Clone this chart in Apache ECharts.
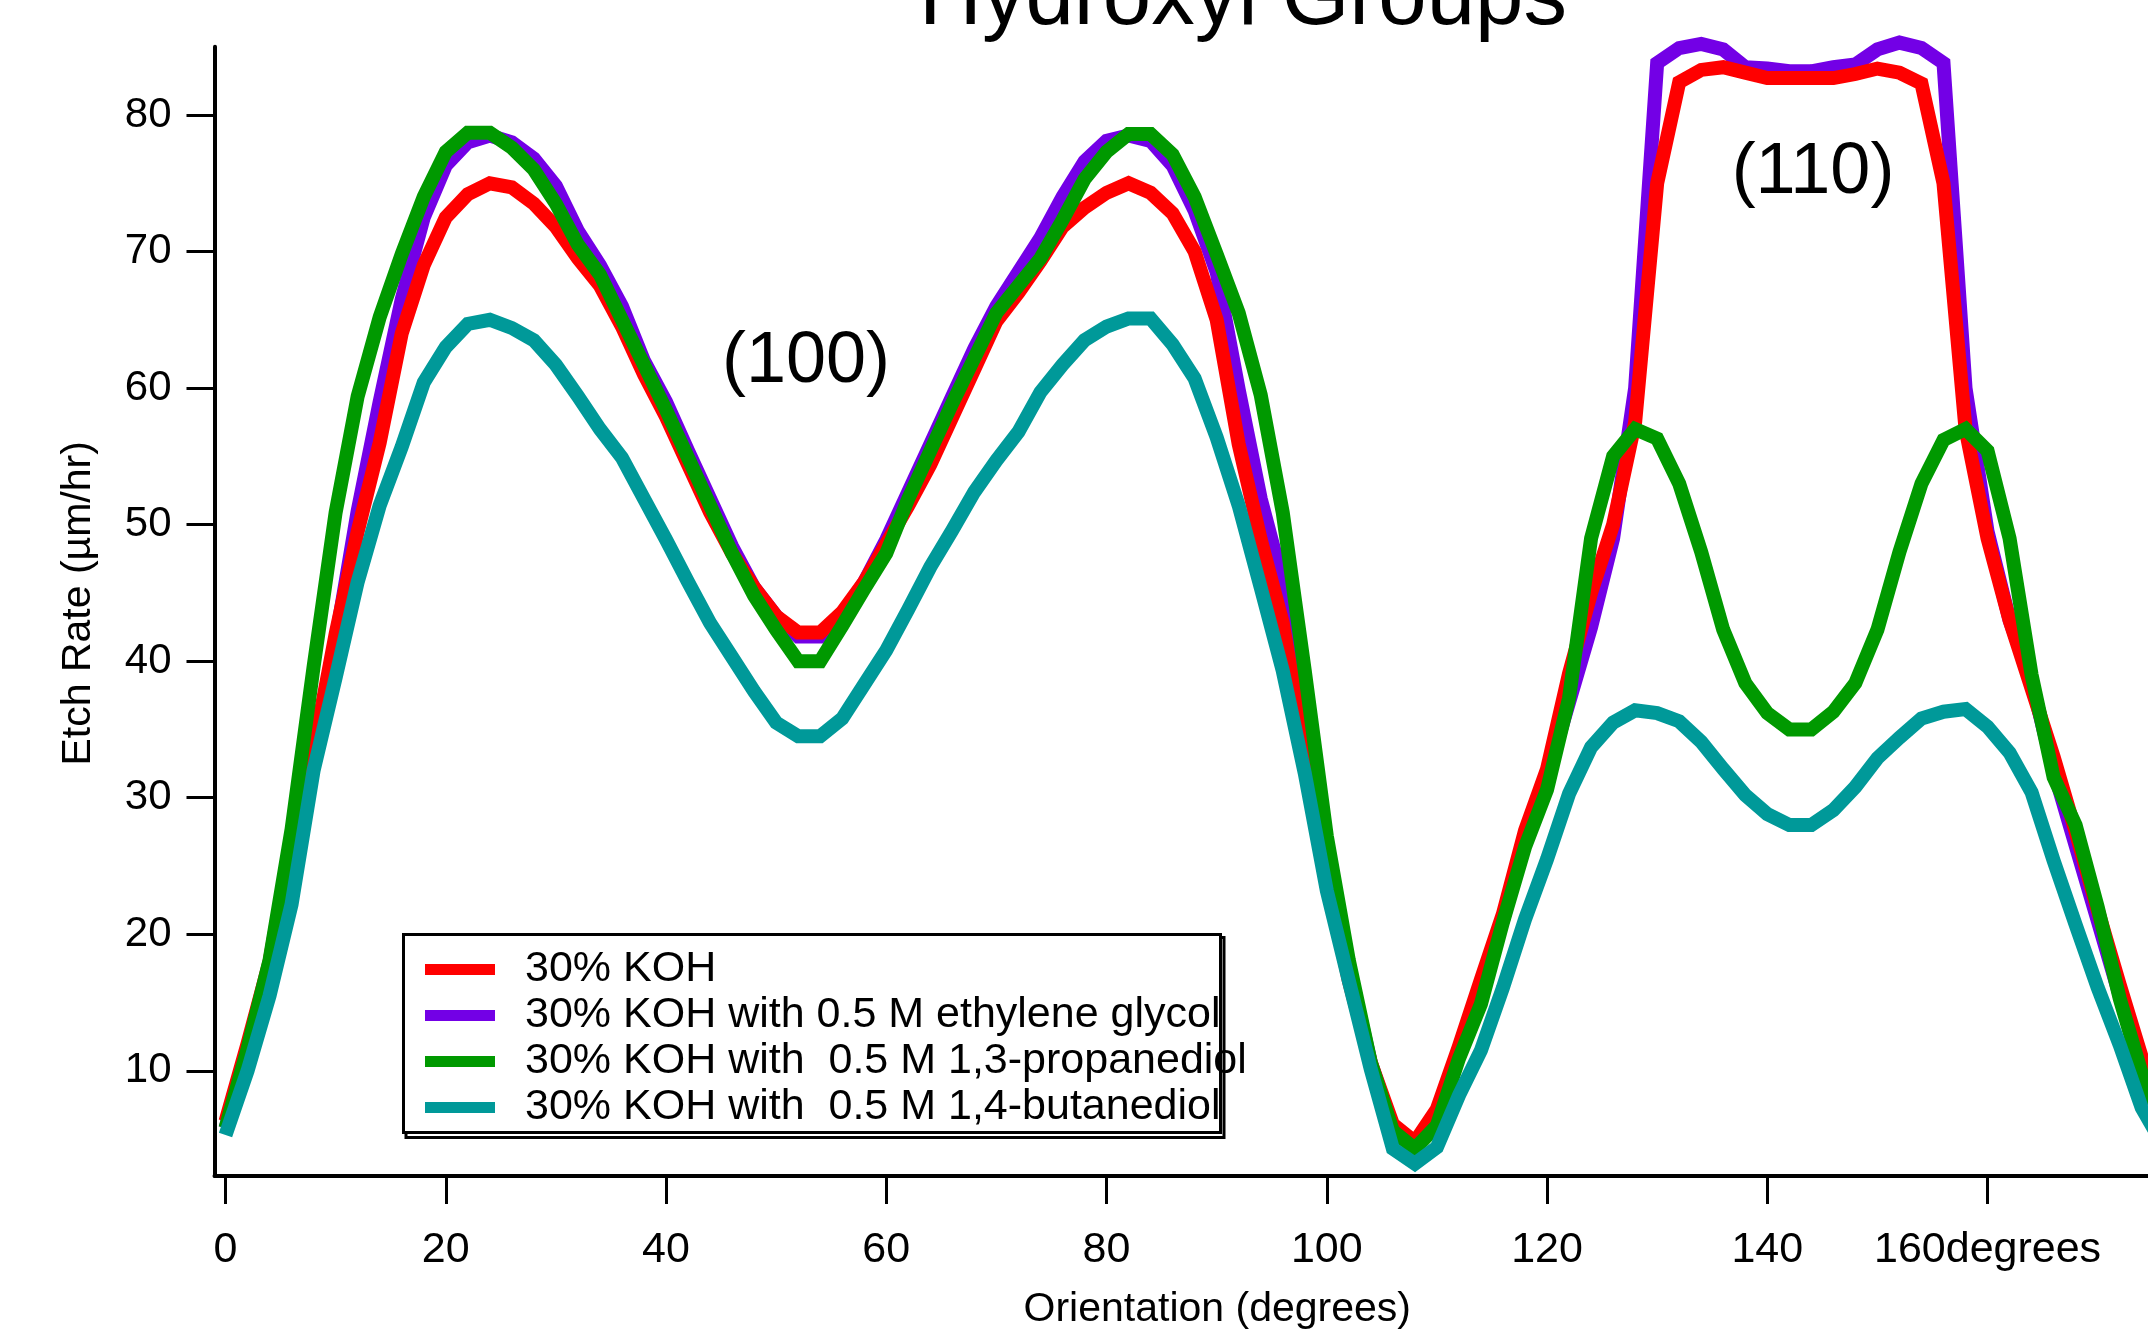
<!DOCTYPE html>
<html>
<head>
<meta charset="utf-8">
<script src="https://cdn.jsdelivr.net/npm/echarts@6/dist/echarts.min.js"></script>
<style>
html,body{margin:0;padding:0;background:#fff;}
#chart{width:2148px;height:1335px;}
</style>
</head>
<body>
<div id="chart"></div>
<script>
// Orientation (degrees)
const orientation = [0,2,4,6,8,10,12,14,16,18,20,22,24,26,28,30,32,34,
  36,38,40,42,44,46,48,50,52,54,56,58,60,62,64,66,68,70,72,
  74,76,78,80,82,84,86,88,90,92,94,96,98,100,102,104,106,108,
  110,112,114,116,118,120,122,124,126,128,130,132,134,136,138,140,142,144,
  146,148,150,152,154,156,158,160,162,164,166,168,170,172,174,176];

// Etch rate (um/hr)
const koh = [6.3,12,18,27,33.5,42,49.5,56,64,69,72.5,74.2,75,74.7,73.5,71.8,69.5,67.5,
  64.5,61,57.9,54.4,50.9,47.9,45.4,43.3,42.1,42.1,43.6,45.8,48.6,51.4,54.4,57.9,61.4,64.9,67,
  69.3,71.8,73.2,74.3,75,74.3,72.8,70,65,55.9,48.9,42.8,33.3,24.2,16.6,10.6,6.1,4.8,
  7.2,11.8,16.7,21.5,27.6,32.1,39.1,45,50,57.5,75,82.4,83.3,83.5,83.1,82.7,82.7,82.7,
  82.7,83,83.4,83.1,82.3,75,57,49,43,38,33,27.5,21.8,16.3,11,7];

const ethyleneGlycol = [5.8,11.3,17.1,26.7,33.5,41.5,51,59,66.5,72.5,76.3,78,78.5,78,76.8,74.8,71.5,69,
  66,62,59,55.4,51.9,48.4,45.4,43.3,41.8,41.8,43.3,45.8,48.9,52.4,55.9,59.4,62.9,66,68.5,
  71,74,76.6,78.1,78.5,78.1,76.3,73,68.5,59.9,51.9,45.8,35.8,25.7,17.6,10.6,5.8,4.5,
  6.8,11.5,16.5,21,27,31.5,37,42.5,49,60,83.8,84.9,85.2,84.8,83.5,83.4,83.2,83.2,
  83.5,83.7,84.8,85.3,84.9,83.8,60,49.5,43,38.5,32,26.5,21,15.5,10,6.5];

const propanediol = [5.8,11.6,18.1,27.7,39.6,50.9,59.4,65.2,69.8,74,77.3,78.7,78.7,77.6,76,73.5,70.5,68.3,
  65,61.7,58.4,54.9,51.4,47.9,44.8,42.3,40,40,42.6,45.3,47.9,51.9,55.4,58.9,62.2,65.5,67.5,
  69.5,72.3,75.3,77.3,78.6,78.6,77.1,74,69.8,65.5,59.5,50.9,39.3,27.2,18.1,10.6,5.6,4.3,
  6,10.9,14.9,20.9,26.4,30.6,37.3,49,55,57,56.3,53,48,42.3,38.4,36.2,35,35,
  36.3,38.4,42.3,48,53,56.2,57,55.4,49,39,31.5,28,22,15.3,9.8,6];

const butanediol = [5.3,10,15.5,22.2,32,38.8,45.8,51.4,55.7,60.4,63,64.7,65,64.4,63.5,61.7,59.4,57,
  54.9,51.9,48.9,45.8,42.8,40.3,37.8,35.5,34.5,34.5,35.8,38.3,40.8,43.8,46.9,49.6,52.4,54.7,56.8,
  59.7,61.7,63.5,64.5,65.1,65.1,63.2,60.7,56.4,51.4,45.4,39.3,31.8,23.2,16.6,10.1,4.3,3.2,
  4.4,8.2,11.5,16.1,21.1,25.5,30.3,33.7,35.5,36.4,36.2,35.6,34.1,32.1,30.2,28.8,28,28,
  29.1,30.8,32.9,34.4,35.8,36.3,36.5,35.2,33.3,30.4,25.4,20.7,16.1,11.9,7.3,4.5];

const seriesNames = ['30% KOH', '30% KOH with 0.5 M ethylene glycol',
  '30% KOH with  0.5 M 1,3-propanediol', '30% KOH with  0.5 M 1,4-butanediol'];
const seriesColors = ['#ff0000', '#7300e6', '#009900', '#009999'];

const xTickValues = [0,20,40,60,80,100,120,140,160];
const xTickLabels = ['0','20','40','60','80','100','120','140','160degrees'];
const yTickValues = [10,20,30,40,50,60,70,80];
const yTickLabels = ['10','20','30','40','50','60','70','80'];

const FONT = '"Liberation Sans", Arial, Helvetica, sans-serif';

function pairs(arr){ return orientation.map((d,i)=>[d, arr[i]]); }
const allData = [koh, ethyleneGlycol, propanediol, butanediol];
const zOrder = [3, 2, 4, 5];

const chart = echarts.init(document.getElementById('chart'));
chart.setOption({
  animation: false,
  backgroundColor: '#ffffff',
  grid: { left: 214.5, top: 46.7, right: 0, height: 1131.1, containLabel: false },
  xAxis: {
    type: 'value', min: -1, max: 174.57,
    name: 'Orientation (degrees)', nameLocation: 'middle', nameGap: 113,
    nameTextStyle: { fontFamily: FONT, fontSize: 41, color: '#000', padding: [0,0,0,72] },
    axisLine: { show: true, onZero: false, lineStyle: { color: '#000', width: 4 } },
    axisTick: { show: true, inside: false, length: 28, customValues: xTickValues, lineStyle: { color: '#000', width: 3 } },
    axisLabel: { show: true, margin: 53, customValues: xTickValues, fontFamily: FONT, fontSize: 43, color: '#000',
      formatter: function(v){ const i = xTickValues.indexOf(v); return i >= 0 ? xTickLabels[i] : ''; } },
    splitLine: { show: false }
  },
  yAxis: {
    type: 'value', min: 2.3, max: 85,
    name: 'Etch Rate (µm/hr)', nameLocation: 'middle', nameGap: 115, nameRotate: 90,
    nameTextStyle: { fontFamily: FONT, fontSize: 41, color: '#000', padding: [0,0,0,16] },
    axisLine: { show: true, onZero: false, lineStyle: { color: '#000', width: 4 } },
    axisTick: { show: true, inside: false, length: 28, customValues: yTickValues, lineStyle: { color: '#000', width: 3 } },
    axisLabel: { show: true, margin: 43, customValues: yTickValues, fontFamily: FONT, fontSize: 42, color: '#000',
      formatter: function(v){ const i = yTickValues.indexOf(v); return i >= 0 ? yTickLabels[i] : ''; } },
    splitLine: { show: false }
  },
  legend: {
    orient: 'vertical', left: 425, top: 948, padding: 0, itemGap: 3,
    itemWidth: 70, itemHeight: 11, icon: 'rect', z: 10,
    data: seriesNames,
    textStyle: { fontFamily: FONT, fontSize: 43, color: '#000', padding: [0,0,0,25] }
  },
  graphic: [
    { type: 'rect', z: 6, shape: { x: 406, y: 937.5, width: 818, height: 200 },
      style: { fill: 'none', stroke: '#000', lineWidth: 3 } },
    { type: 'rect', z: 7, shape: { x: 403.5, y: 934.5, width: 817, height: 198 },
      style: { fill: '#fff', stroke: '#000', lineWidth: 3 } },
    { type: 'text', z: 8, x: 1243, y: 0,
      style: { text: 'Hydroxyl Groups', fontFamily: FONT, fontSize: 87, fill: '#000', textAlign: 'center', textVerticalAlign: 'middle' } },
    { type: 'text', z: 8, x: 806, y: 362,
      style: { text: '(100)', fontFamily: FONT, fontSize: 72, fill: '#000', textAlign: 'center', textVerticalAlign: 'middle' } },
    { type: 'text', z: 8, x: 1813, y: 173,
      style: { text: '(110)', fontFamily: FONT, fontSize: 72, fill: '#000', textAlign: 'center', textVerticalAlign: 'middle' } }
  ],
  series: allData.map((arr, k) => ({
    name: seriesNames[k], type: 'line', data: pairs(arr),
    showSymbol: false, symbol: 'none', clip: false, z: zOrder[k],
    itemStyle: { color: seriesColors[k] },
    lineStyle: { color: seriesColors[k], width: 14, join: 'miter' }
  }))
});
</script>
</body>
</html>
